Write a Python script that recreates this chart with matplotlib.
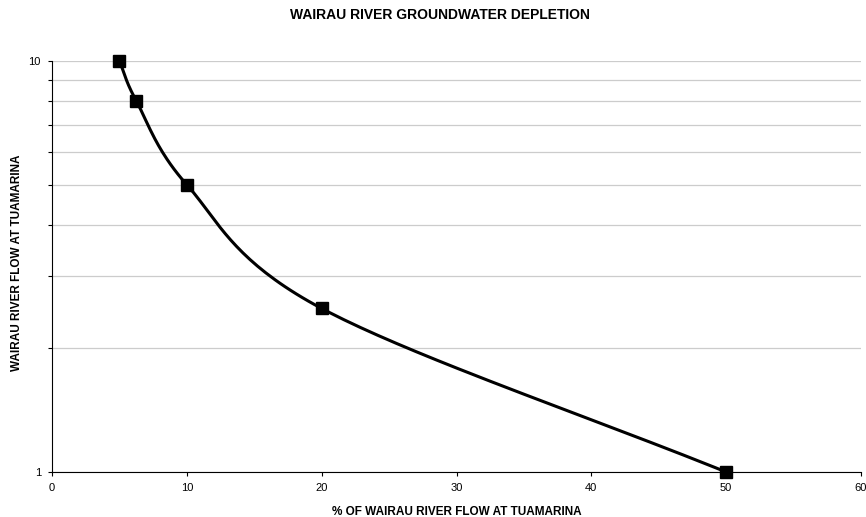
import matplotlib
matplotlib.use("Agg")
import matplotlib.pyplot as plt
import numpy as np
from matplotlib.ticker import LogLocator, NullFormatter, FixedLocator, FixedFormatter

plt.rcParams['font.family'] = ['Liberation Sans', 'DejaVu Sans']

# data
pct_flow = [5, 6.25, 10, 20, 50]
river_flow = [10, 8, 5, 2.5, 1]


def smooth(xs, ys, n=40):
    # catmull-rom through the points, in x / log10(y) space
    px = np.array(xs, dtype=float)
    py = np.log10(np.array(ys, dtype=float))
    px = np.concatenate([[2 * px[0] - px[1]], px, [2 * px[-1] - px[-2]]])
    py = np.concatenate([[2 * py[0] - py[1]], py, [2 * py[-1] - py[-2]]])
    ox, oy = [], []
    t = np.linspace(0, 1, n)
    for i in range(1, len(px) - 2):
        for arr, out in ((px, ox), (py, oy)):
            p0, p1, p2, p3 = arr[i - 1], arr[i], arr[i + 1], arr[i + 2]
            c = 0.5 * ((2 * p1) + (-p0 + p2) * t + (2 * p0 - 5 * p1 + 4 * p2 - p3) * t ** 2
                       + (-p0 + 3 * p1 - 3 * p2 + p3) * t ** 3)
            out.extend(c)
    return np.array(ox), 10 ** np.array(oy)


fig = plt.figure(figsize=(8.66, 5.17), dpi=100)
ax = fig.add_axes([52 / 866, 45 / 517, 809 / 866, 411 / 517])

sx, sy = smooth(pct_flow, river_flow)
ax.plot(sx, sy, color='black', lw=2.2, zorder=3, clip_on=False)
ax.plot(pct_flow, river_flow, 's', color='black', ms=8, zorder=4, clip_on=False)

ax.set_yscale('log')
ax.set_ylim(1, 10)
ax.set_xlim(0, 60)
ax.set_xticks(range(0, 61, 10))
ax.yaxis.set_major_locator(FixedLocator([1, 10]))
ax.yaxis.set_major_formatter(FixedFormatter(['1', '10']))
ax.yaxis.set_minor_locator(LogLocator(base=10, subs=np.arange(2, 10)))
ax.yaxis.set_minor_formatter(NullFormatter())

ax.grid(True, which='both', axis='y', color='#cccccc', lw=0.9)
ax.set_axisbelow(True)

for s in ('top', 'right'):
    ax.spines[s].set_visible(False)
ax.spines['left'].set_linewidth(0.8)
ax.spines['bottom'].set_linewidth(0.8)

ax.tick_params(axis='both', which='major', labelsize=8, length=3, width=0.8, pad=5)
ax.tick_params(axis='y', which='minor', length=3, width=0.8)

ax.set_xlabel('% OF WAIRAU RIVER FLOW AT TUAMARINA', fontsize=8.5, fontweight='bold', labelpad=9)
fig.text(17 / 866, 1 - 263 / 517, 'WAIRAU RIVER FLOW AT TUAMARINA', rotation=90,
         ha='center', va='center', fontsize=8.5, fontweight='bold')
fig.text(440 / 866, 1 - 15 / 517, 'WAIRAU RIVER GROUNDWATER DEPLETION', ha='center', va='center',
         fontsize=10, fontweight='bold')

fig.savefig('out.png', dpi=100)
